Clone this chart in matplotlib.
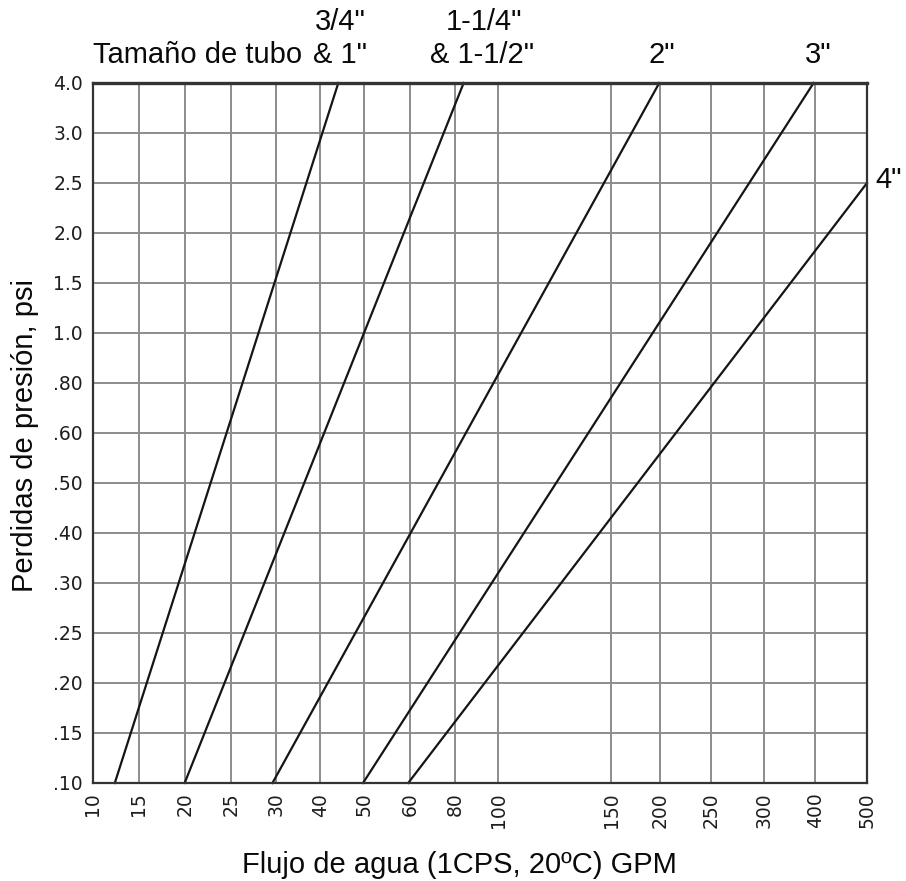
import numpy as np
import matplotlib
matplotlib.use("Agg")
import matplotlib.pyplot as plt

# axis tick values (chart uses hand-spaced, non-log grids)
flow_ticks = [10, 15, 20, 25, 30, 40, 50, 60, 80, 100, 150, 200, 250, 300, 400, 500]
psi_ticks = [0.10, 0.15, 0.20, 0.25, 0.30, 0.40, 0.50, 0.60, 0.80, 1.0, 1.5, 2.0, 2.5, 3.0, 4.0]
psi_labels = [".10", ".15", ".20", ".25", ".30", ".40", ".50", ".60", ".80",
              "1.0", "1.5", "2.0", "2.5", "3.0", "4.0"]

# where each flow grid line sits along the axis (fraction of width), as printed
flow_grid_frac = [0.0, 0.060, 0.119, 0.179, 0.237, 0.294, 0.351, 0.410, 0.468,
                  0.524, 0.670, 0.733, 0.799, 0.867, 0.933, 1.0]

# pipe size curves: (flow start, flow end), (psi start, psi end)
pipe_names = ['3/4" & 1"', '1-1/4" & 1-1/2"', '2"', '3"', '4"']
flow_start = [12.4, 20.0, 29.6, 49.7, 59.6]
flow_end = [44.1, 84.0, 199.0, 397.0, 500.0]
psi_start = [0.10, 0.10, 0.10, 0.10, 0.10]
psi_end = [4.0, 4.0, 4.0, 4.0, 2.5]

psi_grid_frac = np.linspace(0, 1, len(psi_ticks))


def fwd_x(v):
    return np.interp(v, flow_ticks, flow_grid_frac)


def inv_x(p):
    return np.interp(p, flow_grid_frac, flow_ticks)


def fwd_y(v):
    return np.interp(v, psi_ticks, psi_grid_frac)


def inv_y(p):
    return np.interp(p, psi_grid_frac, psi_ticks)


W, H = 906, 881
fig = plt.figure(figsize=(W / 100, H / 100), dpi=100)
ax = fig.add_axes([92.5 / W, 1 - 783 / H, 774.5 / W, 700 / H])

ax.set_xscale("function", functions=(fwd_x, inv_x))
ax.set_yscale("function", functions=(fwd_y, inv_y))
ax.set_xlim(10, 500)
ax.set_ylim(0.10, 4.0)

ax.set_xticks(flow_ticks)
ax.set_xticklabels([str(v) for v in flow_ticks], rotation=90, family="DejaVu Sans", fontsize=13.5)
ax.set_yticks(psi_ticks)
ax.set_yticklabels(psi_labels, family="DejaVu Sans", fontsize=13.5)
ax.xaxis.set_minor_locator(matplotlib.ticker.NullLocator())
ax.yaxis.set_minor_locator(matplotlib.ticker.NullLocator())
ax.tick_params(axis="both", length=0, colors="#1e1e1e")
ax.tick_params(axis="x", pad=7)
ax.tick_params(axis="y", pad=7)

ax.grid(True, color="#8c8c8c", linewidth=1.4)
ax.set_axisbelow(True)
for side, sp in ax.spines.items():
    sp.set_color("#333333")
    sp.set_linewidth(1.6)
ax.spines["top"].set_linewidth(2.4)

for i in range(len(pipe_names)):
    ax.plot([flow_start[i], flow_end[i]], [psi_start[i], psi_end[i]],
            color="#151515", linewidth=1.6, clip_on=False)

txt = dict(family="Liberation Sans", fontsize=21, color="#0a0a0a")
fig.text(93 / W, 1 - 63 / H, "Tamaño de tubo", ha="left", va="baseline", **txt)
fig.text(340 / W, 1 - 63 / H, '& 1"', ha="center", va="baseline", **txt)
fig.text(340 / W, 1 - 30 / H, '3/4"', ha="center", va="baseline", **txt)
fig.text(482 / W, 1 - 63 / H, '& 1-1/2"', ha="center", va="baseline", **txt)
fig.text(484 / W, 1 - 30 / H, '1-1/4"', ha="center", va="baseline", **txt)
fig.text(662 / W, 1 - 63 / H, '2"', ha="center", va="baseline", **txt)
fig.text(818 / W, 1 - 63 / H, '3"', ha="center", va="baseline", **txt)
fig.text(889 / W, 1 - 188 / H, '4"', ha="center", va="baseline", **txt)

fig.text(459 / W, 1 - 865 / H, "Flujo de agua (1CPS, 20ºC) GPM", ha="center", va="center", **txt)
fig.text(25 / W, 1 - 436 / H, "Perdidas de presión, psi", ha="center", va="center",
         rotation=90, **txt)

fig.savefig("out.png", dpi=100)
